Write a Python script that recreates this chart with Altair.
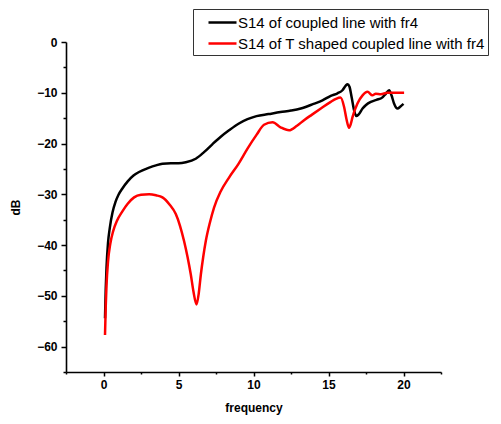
import altair as alt
import pandas as pd

series_names = ["S14 of coupled line with fr4", "S14 of T shaped coupled line with fr4"]

black_freq = [0.1, 0.15, 0.2, 0.3, 0.42, 0.6, 0.8, 1.0, 1.27, 1.6, 2.0, 2.37, 3.0, 3.5, 3.93, 4.5,
              5.0, 5.49, 6.15, 6.7, 7.27, 7.8, 8.37, 9.0, 9.6, 10.2, 11.0, 11.8, 12.5, 13.15, 14.0,
              14.6, 15.15, 15.6, 15.93, 16.15, 16.27, 16.4, 16.55, 16.71, 16.85, 17.0, 17.27,
              17.5, 17.82, 18.2, 18.6, 18.82, 19.04, 19.2, 19.37, 19.6, 19.8, 20.0]
black_db = [-54.4, -48.5, -44.5, -39.6, -36.6, -33.6, -31.5, -30.1, -28.8, -27.5, -26.3, -25.6,
            -24.8, -24.3, -24.0, -23.9, -23.9, -23.7, -23.0, -21.7, -20.1, -18.7, -17.4, -16.1,
            -15.2, -14.6, -14.2, -13.8, -13.5, -13.1, -12.2, -11.5, -10.6, -10.1, -9.5, -8.6,
            -8.3, -8.8, -11.0, -13.5, -14.6, -14.3, -13.1, -12.4, -11.8, -11.4, -10.9, -10.2,
            -9.5, -10.5, -12.1, -13.1, -12.7, -12.2]

red_freq = [0.1, 0.15, 0.2, 0.3, 0.45, 0.65, 0.9, 1.27, 1.6, 2.04, 2.5, 3.04, 3.5, 3.93, 4.4,
            4.82, 5.1, 5.37, 5.6, 5.82, 6.0, 6.2, 6.35, 6.49, 6.65, 6.82, 7.1, 7.37, 7.8, 8.37,
            9.0, 9.6, 10.2, 10.7, 11.27, 11.8, 12.37, 12.9, 13.37, 13.9, 14.49, 15.15, 15.5,
            15.8, 16.04, 16.2, 16.37, 16.5, 16.6, 16.93, 17.27, 17.6, 17.93, 18.15, 18.49,
            18.93, 19.5, 20.04]
red_db = [-57.7, -52.0, -48.0, -43.3, -39.8, -37.2, -35.2, -33.3, -31.9, -30.6, -30.1, -30.0,
          -30.2, -30.6, -32.0, -33.9, -36.2, -39.2, -42.3, -45.8, -49.2, -51.7, -49.5, -45.8,
          -42.3, -39.2, -35.5, -32.6, -29.5, -26.7, -24.0, -21.0, -18.3, -16.3, -15.8, -16.8,
          -17.4, -16.5, -15.4, -14.3, -13.1, -11.8, -11.2, -10.95, -12.8, -15.2, -16.9, -16.0,
          -14.8, -12.1, -10.5, -9.8, -10.5, -10.2, -10.3, -10.0, -10.0, -10.0]

x_ticks = [-2.5, 0, 2.5, 5, 7.5, 10, 12.5, 15, 17.5, 20, 22.5]
y_ticks = [-65, -60, -55, -50, -45, -40, -35, -30, -25, -20, -15, -10, -5, 0]

df = pd.concat([
    pd.DataFrame({"freq": black_freq, "dB": black_db, "series": series_names[0], "order": range(len(black_freq))}),
    pd.DataFrame({"freq": red_freq, "dB": red_db, "series": series_names[1], "order": range(len(red_freq))}),
])

FONT = "Liberation Sans"

chart = alt.Chart(df).mark_line(strokeWidth=2.5, interpolate="monotone").encode(
    x=alt.X("freq:Q", scale=alt.Scale(domain=[-2.5, 22.5], nice=False, zero=False),
            axis=alt.Axis(title="frequency", values=x_ticks, grid=False,
                          labelExpr="datum.value % 5 === 0 ? datum.label : ''",
                          tickSize=alt.condition("datum.value % 5 === 0", alt.value(4), alt.value(2)),
                          labelPadding=3, titlePadding=12)),
    y=alt.Y("dB:Q", scale=alt.Scale(domain=[-65, 0], nice=False, zero=False),
            axis=alt.Axis(title="dB", values=y_ticks, grid=False,
                          labelExpr="datum.value % 10 === 0 ? datum.label : ''",
                          tickSize=alt.condition("datum.value % 10 === 0", alt.value(5), alt.value(3)),
                          labelPadding=4, titlePadding=14)),
    color=alt.Color("series:N", scale=alt.Scale(domain=series_names, range=["#000000", "#ff0000"]),
                    legend=alt.Legend(title=None, orient="none", legendX=127, legendY=-33,
                                      direction="vertical", strokeColor="#333333", fillColor="white",
                                      padding=3, symbolType="M-1.556,0H1.556", symbolSize=324,
                                      symbolOffset=16, symbolStrokeWidth=2.5, labelFontSize=15,
                                      labelFont=FONT, labelColor="black",
                                      labelLimit=400, labelOffset=5, rowPadding=2)),
    order="order:Q",
).properties(
    width=375, height=330,
    padding={"left": 58, "top": 34, "right": 52, "bottom": 44},
    autosize=alt.AutoSizeParams(type="none"),
).configure_view(stroke=None).configure_axis(
    domainColor="black", domainWidth=1.6, tickColor="black", tickWidth=1.5,
    labelFont=FONT, labelFontSize=12, labelFontWeight="bold", labelColor="black",
    titleFont=FONT, titleFontSize=12, titleFontWeight="bold", titleColor="black",
)

chart.save("out.html", embed_options={"renderer": "svg", "actions": False})
